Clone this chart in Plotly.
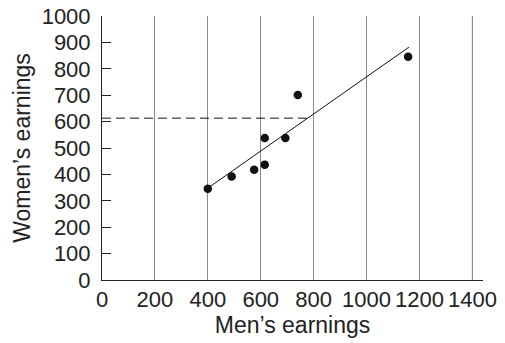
import plotly.graph_objects as go

men = [400, 490, 575, 615, 615, 693, 740, 1157]
women = [346, 392, 418, 437, 538, 538, 701, 846]

fit_x = [400, 1160]
fit_y = [348, 882]

ref_y = 613
ref_x = [0, 779]

x_ticks = [0, 200, 400, 600, 800, 1000, 1200, 1400]
y_ticks = [0, 100, 200, 300, 400, 500, 600, 700, 800, 900, 1000]

FONT = "Liberation Sans, Arial, Helvetica, sans-serif"
fs = 22
fs_title = 23

fig = go.Figure()
fig.add_trace(go.Scatter(x=ref_x, y=[ref_y, ref_y], mode="lines",
                         line=dict(color="#111", width=1, dash="9px,5px"),
                         showlegend=False, hoverinfo="skip"))
fig.add_trace(go.Scatter(x=fit_x, y=fit_y, mode="lines",
                         line=dict(color="#111", width=1),
                         showlegend=False, hoverinfo="skip"))
fig.add_trace(go.Scatter(x=men, y=women, mode="markers",
                         marker=dict(color="#111", size=8.5),
                         showlegend=False))

fig.add_shape(type="line", xref="x", yref="y", x0=x_ticks[-1], x1=x_ticks[-1],
              y0=y_ticks[0], y1=y_ticks[-1], line=dict(color="#222", width=1), layer="below")

fig.update_layout(
    width=505, height=343,
    margin=dict(l=102, r=22, t=16, b=62.5),
    paper_bgcolor="white", plot_bgcolor="white",
    font=dict(family=FONT, size=fs, color="#222"),
    showlegend=False,
)
fig.update_xaxes(
    range=[0, 1440], tickvals=x_ticks, ticktext=[str(v) for v in x_ticks],
    showgrid=True, gridcolor="#8a8a8a", gridwidth=1,
    showline=True, linecolor="#222", linewidth=1,
    ticks="", zeroline=False, automargin=False,
    tickfont=dict(size=fs), ticklabelstandoff=0,
    title=dict(text="Men’s earnings", font=dict(size=fs_title), standoff=4),
)
fig.update_yaxes(
    range=[0, 1000], tickvals=y_ticks, ticktext=[str(v) for v in y_ticks],
    showgrid=False, showline=True, linecolor="#222", linewidth=1,
    ticks="inside", ticklen=9, tickcolor="#222", tickwidth=1,
    zeroline=False, automargin=False,
    tickfont=dict(size=fs), ticklabelstandoff=6,
    title=dict(text="Women’s earnings", font=dict(size=fs_title), standoff=4),
)

fig.write_html("out.html", config={"displayModeBar": False},
               post_script="document.body.style.margin='0';")
